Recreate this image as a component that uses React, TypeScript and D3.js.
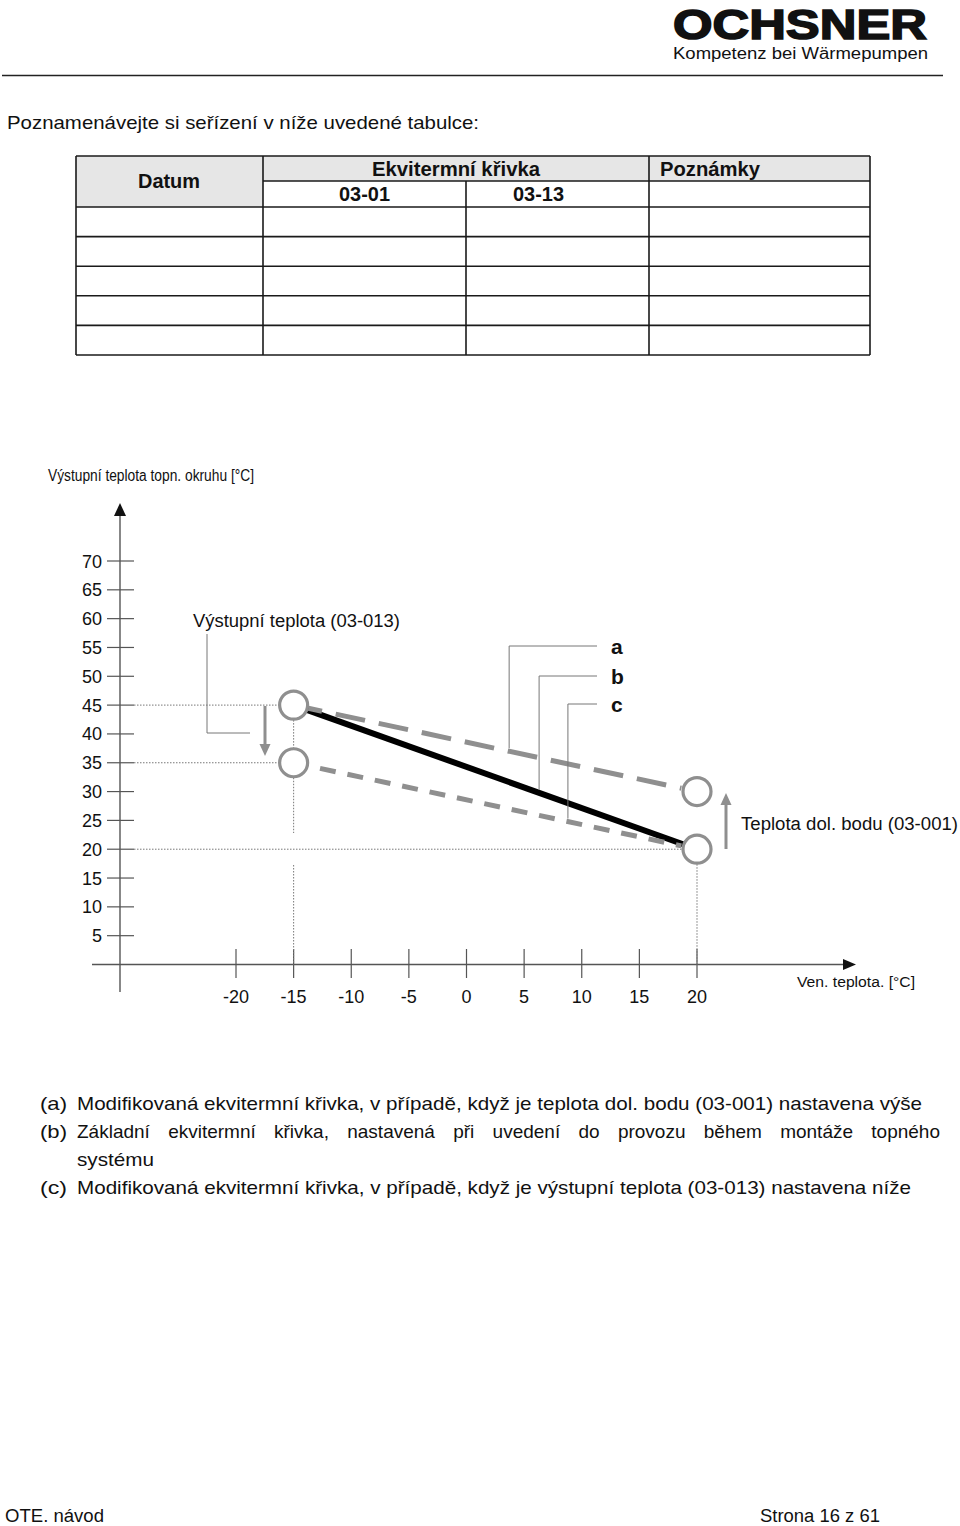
import React, { useEffect, useRef } from 'react';
import * as d3 from 'd3';

const xTicks = [-20, -15, -10, -5, 0, 5, 10, 15, 20];
const yTicks = [70, 65, 60, 55, 50, 45, 40, 35, 30, 25, 20, 15, 10, 5];

const curveIds = ['a', 'b', 'c'];
const curveX1 = [-15, -15, -15];
const curveY1 = [45, 45, 35];
const curveX2 = [20, 20, 20];
const curveY2 = [30, 20, 20];
const leaderX = [3.7, 6.3, 8.8];

const pointX = [-15, -15, 20, 20];
const pointY = [45, 35, 30, 20];

const tableHeaders = ['Datum', 'Ekvitermní křivka', 'Poznámky'];
const subHeaders = ['03-01', '03-13'];
const tableRowCount = 5;

const noteLabels = ['(a)', '(b)', '', '(c)'];
const noteTexts = [
  'Modifikovaná ekvitermní křivka, v případě, když je teplota dol. bodu (03-001) nastavena výše',
  'Základní ekvitermní křivka, nastavená při uvedení do provozu během montáže topného',
  'systému',
  'Modifikovaná ekvitermní křivka, v případě, když je výstupní teplota (03-013) nastavena níže',
];
const noteWidths = [845, 863, 77, 834];

const FONT = '"Liberation Sans", Arial, Helvetica, sans-serif';

export default function App() {
  const ref = useRef<SVGSVGElement | null>(null);

  useEffect(() => {
    const svg = d3.select(ref.current);
    svg.selectAll('*').remove();
    svg.attr('font-family', FONT);

    // ---------- Header ----------
    svg.append('text').attr('x', 673).attr('y', 38.5).attr('font-size', 42).attr('font-weight', 900)
      .attr('stroke', '#111').attr('stroke-width', 1.6)
      .attr('textLength', 254).attr('lengthAdjust', 'spacingAndGlyphs').attr('fill', '#111').text('OCHSNER');
    svg.append('text').attr('x', 673).attr('y', 59).attr('font-size', 16)
      .attr('textLength', 255).attr('lengthAdjust', 'spacingAndGlyphs').attr('fill', '#111').text('Kompetenz bei Wärmepumpen');
    svg.append('line').attr('x1', 2).attr('x2', 943).attr('y1', 75.5).attr('y2', 75.5)
      .attr('stroke', '#222').attr('stroke-width', 1.5);

    svg.append('text').attr('x', 7).attr('y', 129).attr('font-size', 19).attr('fill', '#111')
      .attr('textLength', 472).attr('lengthAdjust', 'spacingAndGlyphs')
      .text('Poznamenávejte si seřízení v níže uvedené tabulce:');

    // ---------- Table ----------
    const colX = [76, 263, 466, 649, 870];
    const rowY = [156, 181, 207];
    for (let i = 0; i < tableRowCount; i++) rowY.push(207 + 29.6 * (i + 1));
    const t = svg.append('g');
    t.append('rect').attr('x', colX[0]).attr('y', rowY[0]).attr('width', colX[1] - colX[0]).attr('height', rowY[2] - rowY[0]).attr('fill', '#e6e6e6');
    t.append('rect').attr('x', colX[1]).attr('y', rowY[0]).attr('width', colX[4] - colX[1]).attr('height', rowY[1] - rowY[0]).attr('fill', '#e6e6e6');
    const last = rowY[rowY.length - 1];
    const ln = (x1: number, y1: number, x2: number, y2: number) =>
      t.append('line').attr('x1', x1).attr('y1', y1).attr('x2', x2).attr('y2', y2)
        .attr('stroke', '#1a1a1a').attr('stroke-width', 1.6);
    ln(colX[0], rowY[0], colX[4], rowY[0]);
    ln(colX[1], rowY[1], colX[4], rowY[1]);
    for (let i = 2; i < rowY.length; i++) ln(colX[0], rowY[i], colX[4], rowY[i]);
    ln(colX[0], rowY[0], colX[0], last);
    ln(colX[1], rowY[0], colX[1], last);
    ln(colX[2], rowY[1], colX[2], last);
    ln(colX[3], rowY[0], colX[3], last);
    ln(colX[4], rowY[0], colX[4], last);

    const hdr = (x: number, y: number, w: number, s: string) =>
      t.append('text').attr('x', x).attr('y', y).attr('font-size', 20).attr('font-weight', 'bold')
        .attr('fill', '#111').attr('textLength', w).attr('lengthAdjust', 'spacingAndGlyphs').text(s);
    hdr(138, 188, 62, tableHeaders[0]);
    hdr(372, 176, 168, tableHeaders[1]);
    hdr(660, 176, 100, tableHeaders[2]);
    hdr(339, 201, 51, subHeaders[0]);
    hdr(513, 201, 51, subHeaders[1]);

    // ---------- Chart ----------
    const x = d3.scaleLinear().domain([-20, 20]).range([236, 697]);
    const y = d3.scaleLinear().domain([0, 70]).range([964.5, 561]);
    const g = svg.append('g');
    const axisCol = '#555';
    const gray = '#8f8f8f';
    const R = 14;

    g.append('text').attr('x', 48).attr('y', 481).attr('font-size', 16).attr('fill', '#111')
      .attr('textLength', 206).attr('lengthAdjust', 'spacingAndGlyphs')
      .text('Výstupní teplota topn. okruhu  [°C]');

    // y axis
    g.append('line').attr('x1', 120).attr('x2', 120).attr('y1', 512).attr('y2', 992)
      .attr('stroke', axisCol).attr('stroke-width', 1.4);
    g.append('path').attr('d', 'M120,503 L114,516 L126,516 Z').attr('fill', '#111');
    yTicks.forEach((v) => {
      g.append('line').attr('x1', 107).attr('x2', 134).attr('y1', y(v)).attr('y2', y(v))
        .attr('stroke', axisCol).attr('stroke-width', 1.2);
      g.append('text').attr('x', 102).attr('y', y(v) + 6.5).attr('text-anchor', 'end')
        .attr('font-size', 18).attr('fill', '#111').text(String(v));
    });

    // x axis
    g.append('line').attr('x1', 92).attr('x2', 846).attr('y1', y(0)).attr('y2', y(0))
      .attr('stroke', axisCol).attr('stroke-width', 1.4);
    g.append('path').attr('d', `M856,${y(0)} L843,${y(0) - 5.5} L843,${y(0) + 5.5} Z`).attr('fill', '#111');
    xTicks.forEach((v) => {
      g.append('line').attr('x1', x(v)).attr('x2', x(v)).attr('y1', 949).attr('y2', 978)
        .attr('stroke', axisCol).attr('stroke-width', 1.2);
      g.append('text').attr('x', x(v)).attr('y', 1003).attr('text-anchor', 'middle')
        .attr('font-size', 18).attr('fill', '#111').text(String(v));
    });
    g.append('text').attr('x', 797).attr('y', 987).attr('font-size', 14).attr('fill', '#111')
      .attr('textLength', 118).attr('lengthAdjust', 'spacingAndGlyphs').text('Ven. teplota. [°C]');

    // dotted guides
    const dot = (x1: number, y1: number, x2: number, y2: number) =>
      g.append('line').attr('x1', x1).attr('y1', y1).attr('x2', x2).attr('y2', y2)
        .attr('stroke', '#777').attr('stroke-width', 1).attr('stroke-dasharray', '1.5,1.5');
    dot(134, y(45), x(-15) - R - 1, y(45));
    dot(134, y(35), x(-15) - R - 1, y(35));
    dot(134, y(20), x(20) - R - 1, y(20));
    dot(x(-15), y(45) + R + 1, x(-15), y(35) - R - 1);
    dot(x(-15), y(35) + R + 1, x(-15), 833);
    dot(x(-15), 865, x(-15), y(0));
    dot(x(20), y(20) + R + 1, x(20), y(0));

    // curves
    const seg = (i: number, startGap: number, endGap: number) => {
      const x1 = x(curveX1[i]), y1 = y(curveY1[i]), x2 = x(curveX2[i]), y2 = y(curveY2[i]);
      const len = Math.hypot(x2 - x1, y2 - y1);
      const ux = (x2 - x1) / len, uy = (y2 - y1) / len;
      return [[x1 + ux * startGap, y1 + uy * startGap], [x2 - ux * endGap, y2 - uy * endGap]] as [number, number][];
    };
    const lineGen = d3.line();
    g.append('path').attr('d', lineGen(seg(1, R, R))!).attr('stroke', '#000').attr('stroke-width', 6)
      .attr('fill', 'none');
    g.append('path').attr('d', lineGen(seg(0, R + 1, R + 2))!).attr('stroke', gray).attr('stroke-width', 5)
      .attr('fill', 'none').attr('stroke-dasharray', '30,14').attr('stroke-dashoffset', 16);
    g.append('path').attr('d', lineGen(seg(2, R + 13, R + 2))!).attr('stroke', gray).attr('stroke-width', 5)
      .attr('fill', 'none').attr('stroke-dasharray', '16,12');

    // points
    pointX.forEach((px, i) => {
      g.append('circle').attr('cx', x(px)).attr('cy', y(pointY[i])).attr('r', R)
        .attr('fill', '#fff').attr('stroke', gray).attr('stroke-width', 3.2);
    });

    // arrows
    const arrow = (ax: number, y1: number, y2: number) => {
      const dir = y2 > y1 ? 1 : -1;
      g.append('line').attr('x1', ax).attr('x2', ax).attr('y1', y1).attr('y2', y2 - dir * 10)
        .attr('stroke', gray).attr('stroke-width', 3);
      g.append('path').attr('d', `M${ax},${y2} L${ax - 5.5},${y2 - dir * 12} L${ax + 5.5},${y2 - dir * 12} Z`).attr('fill', gray);
    };
    arrow(265, 706, 756);
    arrow(726, 849, 793);

    g.append('text').attr('x', 193).attr('y', 627).attr('font-size', 18).attr('fill', '#111')
      .attr('textLength', 207).attr('lengthAdjust', 'spacingAndGlyphs')
      .text('Výstupní teplota (03-013)');
    g.append('path').attr('d', 'M207,634 V733 H250').attr('stroke', '#777').attr('stroke-width', 1).attr('fill', 'none');

    g.append('text').attr('x', 741).attr('y', 830).attr('font-size', 18).attr('fill', '#111')
      .attr('textLength', 217).attr('lengthAdjust', 'spacingAndGlyphs')
      .text('Teplota dol. bodu (03-001)');

    const labelY = [646, 676, 704];
    curveIds.forEach((id, i) => {
      const lx = x(leaderX[i]);
      const f = (leaderX[i] - curveX1[i]) / (curveX2[i] - curveX1[i]);
      const cy = y(curveY1[i] + f * (curveY2[i] - curveY1[i]));
      g.append('path').attr('d', `M597,${labelY[i]} H${lx} V${cy - 3}`)
        .attr('stroke', '#777').attr('stroke-width', 1).attr('fill', 'none');
      g.append('text').attr('x', 611).attr('y', labelY[i] + 7.5).attr('font-size', 21).attr('font-weight', 'bold')
        .attr('fill', '#111').text(id);
    });

    // ---------- Notes ----------
    const noteY = [1110, 1138, 1166, 1194];
    noteTexts.forEach((s, i) => {
      if (noteLabels[i]) {
        svg.append('text').attr('x', 40).attr('y', noteY[i]).attr('font-size', 19).attr('fill', '#111')
          .attr('textLength', 27).attr('lengthAdjust', 'spacingAndGlyphs').text(noteLabels[i]);
      }
      if (i === 1) {
        const words = s.split(' ');
        const nodes = words.map((w) => svg.append('text').attr('y', noteY[i]).attr('font-size', 19).attr('fill', '#111').text(w));
        const widths = nodes.map((n) => (n.node() as SVGTextElement).getComputedTextLength());
        const total = widths.reduce((a, b) => a + b, 0);
        const gap = (noteWidths[i] - total) / (words.length - 1);
        let cx = 77;
        nodes.forEach((n, k) => { n.attr('x', cx); cx += widths[k] + gap; });
      } else {
        svg.append('text').attr('x', 77).attr('y', noteY[i]).attr('font-size', 19).attr('fill', '#111')
          .attr('textLength', noteWidths[i]).attr('lengthAdjust', 'spacingAndGlyphs').text(s);
      }
    });

    // ---------- Footer ----------
    svg.append('text').attr('x', 5).attr('y', 1522).attr('font-size', 18).attr('fill', '#111')
      .attr('textLength', 99).attr('lengthAdjust', 'spacingAndGlyphs').text('OTE. návod');
    svg.append('text').attr('x', 760).attr('y', 1522).attr('font-size', 18).attr('fill', '#111')
      .attr('textLength', 120).attr('lengthAdjust', 'spacingAndGlyphs').text('Strona 16 z 61');
  }, []);

  return (
    <div style={{ position: 'absolute', left: 0, top: 0, width: 960, height: 1526, background: '#fff' }}>
      <svg ref={ref} width={960} height={1526} style={{ display: 'block' }} />
    </div>
  );
}
